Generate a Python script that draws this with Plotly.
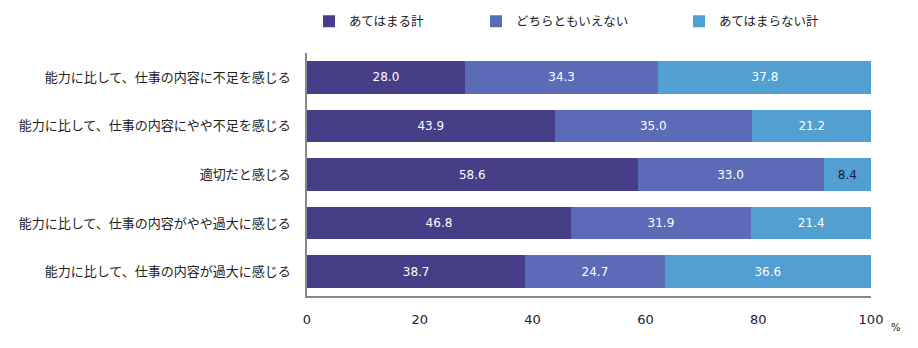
import plotly.graph_objects as go

categories = [
    "能力に比して、仕事の内容に不足を感じる",
    "能力に比して、仕事の内容にやや不足を感じる",
    "適切だと感じる",
    "能力に比して、仕事の内容がやや過大に感じる",
    "能力に比して、仕事の内容が過大に感じる",
]
series_names = ["あてはまる計", "どちらともいえない", "あてはまらない計"]
applies = [28.0, 43.9, 58.6, 46.8, 38.7]
neutral = [34.3, 35.0, 33.0, 31.9, 24.7]
not_applies = [37.8, 21.2, 8.4, 21.4, 36.6]
x_ticks = [0, 20, 40, 60, 80, 100]

colors = ["#463E86", "#5B6BB8", "#529FD1"]
values = [applies, neutral, not_applies]
legend_names = ["legend", "legend2", "legend3"]
legend_x_px = [309, 476, 679]

L, R, T, B = 307, 47, 52.5, 51.5
W, H = 918, 348
pw = W - L - R
ph = H - T - B

fig = go.Figure()
for name, vals, col, lg in zip(series_names, values, colors, legend_names):
    fig.add_trace(go.Bar(
        y=categories, x=vals, name=name, orientation="h",
        marker=dict(color=col, line=dict(width=0)),
        text=[f"{v:.1f}" for v in vals],
        textposition="inside", insidetextanchor="middle",
        textfont=dict(family="DejaVu Sans", size=12,
                      color=["#1a1a3a" if v < 10 else "white" for v in vals]),
        constraintext="none",
        legend=lg, showlegend=True,
    ))

layout_legends = {}
for lg, px in zip(legend_names, legend_x_px):
    layout_legends[lg] = dict(
        x=(px - L) / pw, y=1 + (T - 21) / ph, xanchor="left", yanchor="middle",
        orientation="h", font=dict(family="Noto Sans CJK JP", size=12.5, color="#222"),
        bgcolor="rgba(0,0,0,0)", itemclick=False, itemdoubleclick=False,
    )

fig.update_layout(
    width=W, height=H,
    margin=dict(l=L, r=R, t=T, b=B, autoexpand=False),
    showlegend=True,
    barmode="stack", bargap=0.33,
    plot_bgcolor="white", paper_bgcolor="white",
    font=dict(family="Noto Sans CJK JP", size=13, color="#222"),
    xaxis=dict(range=[0, 100], tickvals=x_ticks, showgrid=False, zeroline=False,
               showline=True, linecolor="#888", linewidth=1.5,
               ticks="", ticklabelstandoff=11,
               tickfont=dict(family="DejaVu Sans", size=13, color="#222")),
    yaxis=dict(autorange="reversed", showgrid=False, zeroline=False,
               showline=True, linecolor="#888", linewidth=1.5,
               ticks="", ticklabelstandoff=12,
               tickfont=dict(family="Noto Sans CJK JP", size=13, color="#222")),
    annotations=[dict(text="%", x=1, xref="paper", xanchor="center", xshift=25,
                      y=0, yref="paper", yanchor="middle", yshift=-31.5,
                      showarrow=False,
                      font=dict(family="DejaVu Sans", size=10, color="#222"))],
    **layout_legends,
)

fig.write_html("out.html")
